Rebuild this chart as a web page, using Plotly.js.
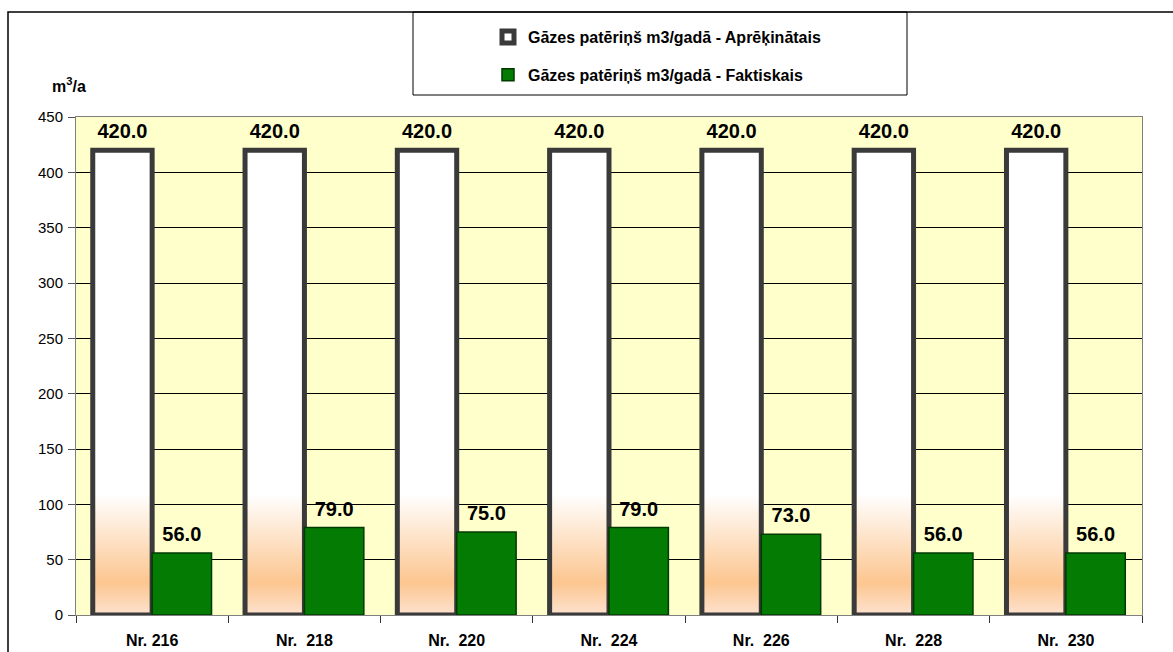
<!DOCTYPE html>
<html>
<head>
<meta charset="utf-8">
<script src="https://cdn.plot.ly/plotly-3.0.1.min.js"></script>
<style>
html,body{margin:0;padding:0;background:#fff;}
#chart{width:1173px;height:652px;}
</style>
</head>
<body>
<div id="chart"></div>
<script>
const categories = ["Nr. 216", "Nr.\u00a0 218", "Nr.\u00a0 220", "Nr.\u00a0 224", "Nr.\u00a0 226", "Nr.\u00a0 228", "Nr.\u00a0 230"];
const calculated = [420, 420, 420, 420, 420, 420, 420];
const actual = [56, 79, 75, 79, 73, 56, 56];
const seriesNames = ["Gāzes patēriņš m3/gadā - Aprēķinātais", "Gāzes patēriņš m3/gadā - Faktiskais"];
const yTicks = [0, 50, 100, 150, 200, 250, 300, 350, 400, 450];

const W = 1173, H = 652;
const M = {l: 76, r: 31, t: 117, b: 37};
const pw = W - M.l - M.r, ph = H - M.t - M.b;
const px = x => (x - M.l) / pw;
const py = y => (H - M.b - y) / ph;

const FONT = "Arial, 'Liberation Sans', sans-serif";
const labelFont = {family: FONT, size: 20, color: "#000", weight: "bold"};

const traces = [
  {
    type: "bar", name: "<b>" + seriesNames[0] + "</b>", x: categories, y: calculated,
    marker: {color: "#ffffff", line: {color: "#3a3a3a", width: 5}},
    texttemplate: "<b>%{y:.1f}</b>", textposition: "outside", textfont: labelFont,
    cliponaxis: false, legendgroup: "a", hoverinfo: "y"
  },
  {
    type: "bar", name: "<b>" + seriesNames[1] + "</b>", x: categories, y: actual,
    marker: {color: "#047c04", line: {color: "#003a00", width: 1.5}},
    texttemplate: "<b>%{y:.1f}</b>", textposition: "outside", textfont: labelFont,
    cliponaxis: false, legendgroup: "b", hoverinfo: "y"
  }
];

const layout = {
  width: W, height: H,
  margin: M,
  paper_bgcolor: "#ffffff",
  plot_bgcolor: "#ffffcc",
  barmode: "group",
  bargap: 0.22,
  bargroupgap: 0,
  font: {family: FONT, size: 12, color: "#000"},
  showlegend: true,
  legend: {
    x: px(657), xanchor: "center", y: py(20), yanchor: "top",
    bgcolor: "rgba(0,0,0,0)", borderwidth: 0,
    font: {family: FONT, size: 16, weight: "bold", color: "#000"},
    traceorder: "grouped", tracegroupgap: 14,
    itemwidth: 30
  },
  xaxis: {
    type: "category", tickson: "boundaries", ticks: "outside", ticklen: 7,
    tickcolor: "#333", showline: true, linecolor: "#808080", linewidth: 1, mirror: true,
    showgrid: false, tickfont: {family: FONT, size: 16, weight: "bold"}, ticklabelstandoff: 11,
    fixedrange: true
  },
  yaxis: {
    range: [0, 450], tickvals: yTicks, ticktext: yTicks.map(String),
    ticks: "outside", ticklen: 7, tickcolor: "#555",
    showline: true, linecolor: "#808080", linewidth: 1, mirror: true,
    showgrid: true, gridcolor: "#000000", gridwidth: 1,
    zeroline: true, zerolinecolor: "#000", zerolinewidth: 1,
    tickfont: {family: FONT, size: 15}, ticklabelstandoff: 2, fixedrange: true
  },
  annotations: [
    {xref: "paper", yref: "paper", x: px(69), y: py(85), xanchor: "center", yanchor: "middle",
     text: "<b>m<sup>3</sup>/a</b>", showarrow: false, font: {family: FONT, size: 16}}
  ],
  shapes: [
    {type: "rect", xref: "paper", yref: "paper", layer: "below",
     x0: px(8), x1: px(1180), y0: py(665), y1: py(12),
     line: {color: "#000", width: 1.5}, fillcolor: "rgba(0,0,0,0)"},
    {type: "rect", xref: "paper", yref: "paper", layer: "above",
     x0: px(413), x1: px(907), y0: py(95), y1: py(12),
     line: {color: "#000", width: 1}, fillcolor: "rgba(0,0,0,0)"}
  ]
};

Plotly.newPlot("chart", traces, layout, {displayModeBar: false, staticPlot: true}).then(gd => {
  const svg = gd.querySelector("svg.main-svg");
  const ns = "http://www.w3.org/2000/svg";
  let defs = svg.querySelector("defs");
  if (!defs) { defs = document.createElementNS(ns, "defs"); svg.insertBefore(defs, svg.firstChild); }
  const grad = document.createElementNS(ns, "linearGradient");
  grad.setAttribute("id", "barGrad");
  grad.setAttribute("x1", "0"); grad.setAttribute("y1", "0");
  grad.setAttribute("x2", "0"); grad.setAttribute("y2", "1");
  [["0", "#ffffff"], ["0.74", "#ffffff"], ["0.93", "#fcc690"], ["1", "#fde2cf"]].forEach(([o, c]) => {
    const s = document.createElementNS(ns, "stop");
    s.setAttribute("offset", o); s.setAttribute("stop-color", c);
    grad.appendChild(s);
  });
  defs.appendChild(grad);
  const barTraces = gd.querySelectorAll(".barlayer .trace.bars");
  if (barTraces.length) {
    barTraces[0].querySelectorAll(".point path").forEach(p => { p.style.fill = "url(#barGrad)"; });
  }
  // lift value labels a little above the bars, as in the reference
  gd.querySelectorAll(".barlayer .bartext").forEach(t => {
    const tr = t.getAttribute("transform") || "";
    t.setAttribute("transform", "translate(0,-5) " + tr);
  });
});
</script>
</body>
</html>
